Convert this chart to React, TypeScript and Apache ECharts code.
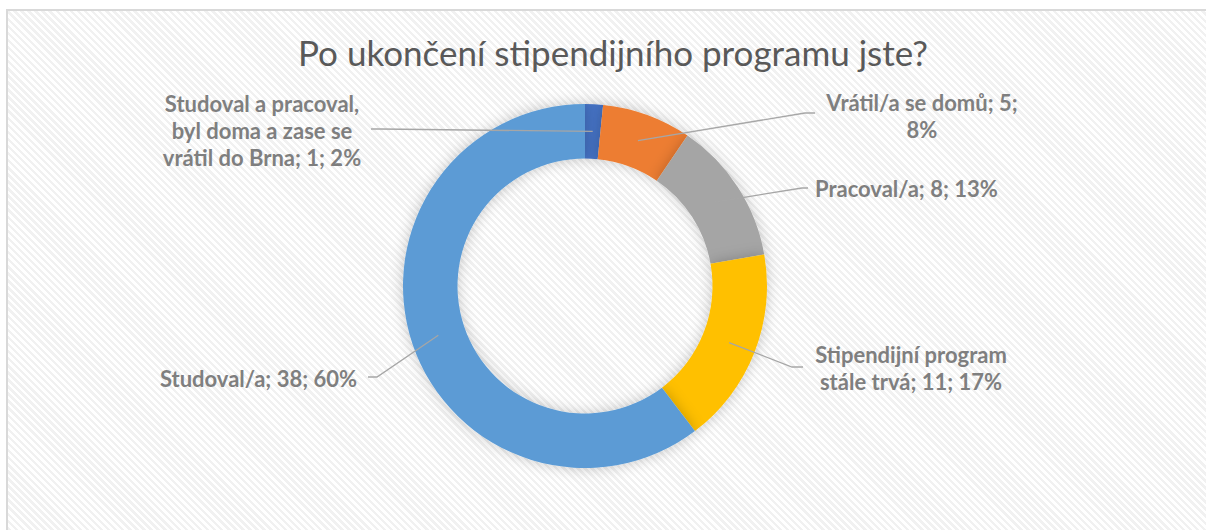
import React, { useEffect, useRef } from "react";
import * as echarts from "echarts";

const titleText = "Po ukončení stipendijního programu jste?";
const categories = [
  "Studoval a pracoval, byl doma a zase se vrátil do Brna",
  "Vrátil/a se domů",
  "Pracoval/a",
  "Stipendijní program stále trvá",
  "Studoval/a",
];
const values = [1, 5, 8, 11, 38];
const colors = ["#4472C4", "#ED7D31", "#A5A5A5", "#FFC000", "#5B9BD5"];

// label layout (text anchor, alignment, elbow point)
const labelPos = [
  { x: 262, y: 130, align: "center", elbow: [371, 129] },
  { x: 922, y: 116, align: "center", elbow: [815, 113] },
  { x: 815, y: 188, align: "left", elbow: [808, 188] },
  { x: 911, y: 368, align: "center", elbow: [803, 367] },
  { x: 357, y: 378, align: "right", elbow: [368, 377] },
];
const bends = [
  [380, 129],
  [805, 113],
  [802, 188],
  [792, 367],
  [377, 377],
];
const WRAP_CHARS = 21;

const CX = 585;
const CY = 286;
const R_IN = 127.5;
const R_OUT = 182;

function wrap(text: string, max: number): string {
  const words = text.split(" ");
  const lines: string[] = [];
  let cur = "";
  for (const w of words) {
    if (!cur) cur = w;
    else if ((cur + " " + w).length <= max) cur += " " + w;
    else {
      lines.push(cur);
      cur = w;
    }
  }
  if (cur) lines.push(cur);
  return lines.join("\n");
}

export default function App() {
  const ref = useRef<HTMLDivElement>(null);
  useEffect(() => {
    if (!ref.current) return;
    const chart = echarts.init(ref.current, undefined, { renderer: "svg" });
    const total = values.reduce((a, b) => a + b, 0);
    const midAngles: number[] = [];
    let acc = 0;
    values.forEach((v) => {
      midAngles.push(90 - ((acc + v / 2) / total) * 360);
      acc += v;
    });
    const rMid = (R_IN + R_OUT) / 2;
    const makeData = (withColor: boolean) =>
      categories.map((name, i) => ({
        name,
        value: values[i],
        itemStyle: { color: withColor ? colors[i] : "rgba(0,0,0,0)" },
      }));
    const base = {
      type: "pie",
      center: [CX, CY],
      radius: [R_IN, R_OUT],
      startAngle: 90,
      clockwise: true,
      percentPrecision: 0,
      avoidLabelOverlap: false,
      emphasis: { disabled: true },
      silent: true,
    };
    chart.setOption({
      animation: false,
      title: {
        text: titleText,
        left: 608,
        top: 29,
        textAlign: "center",
        textStyle: {
          fontFamily: "Lato",
          fontWeight: "normal",
          fontSize: 35,
          color: "#595959",
        },
      },
      series: [
        {
          ...base,
          z: 2,
          data: makeData(true),
          itemStyle: {
            borderWidth: 0,
            shadowBlur: 14,
            shadowColor: "rgba(0,0,0,0.22)",
          },
          label: { show: false },
          labelLine: { show: false },
        },
        {
          ...base,
          z: 5,
          data: makeData(false),
          itemStyle: { borderWidth: 0 },
          label: {
            show: true,
            position: "outside",
            formatter: (p: any) =>
              wrap(`${p.name}; ${p.value}; ${p.percent}%`, WRAP_CHARS),
            fontFamily: "Lato",
            fontWeight: "bold",
            fontSize: 22,
            lineHeight: 27,
            color: "#7F7F7F",
          },
          labelLine: {
            show: true,
            lineStyle: { color: "#A6A6A6", width: 1.3, opacity: 1 },
          },
          labelLayout: (params: any) => {
            const i = params.dataIndex;
            const p = labelPos[i];
            const a = (midAngles[i] * Math.PI) / 180;
            const sx = CX + rMid * Math.cos(a);
            const sy = CY - rMid * Math.sin(a);
            return {
              x: p.x,
              y: p.y,
              align: p.align,
              verticalAlign: "middle",
              labelLinePoints: [[sx, sy], bends[i], p.elbow],
            };
          },
        },
      ],
    });
    return () => chart.dispose();
  }, []);
  return (
    <div
      style={{
        position: "absolute",
        left: 0,
        top: 0,
        width: 1206,
        height: 530,
        overflow: "hidden",
        background: "#ffffff",
      }}
    >
      <div
        style={{
          position: "absolute",
          left: 6,
          top: 9,
          width: 1300,
          height: 600,
          border: "2px solid #D9D9D9",
          background:
            "repeating-linear-gradient(45deg, #ffffff 0px, #ffffff 2.5px, #f1f1f1 2.5px, #f1f1f1 5px)",
        }}
      />
      <div
        ref={ref}
        style={{ position: "absolute", left: 0, top: 0, width: 1206, height: 530 }}
      />
    </div>
  );
}
